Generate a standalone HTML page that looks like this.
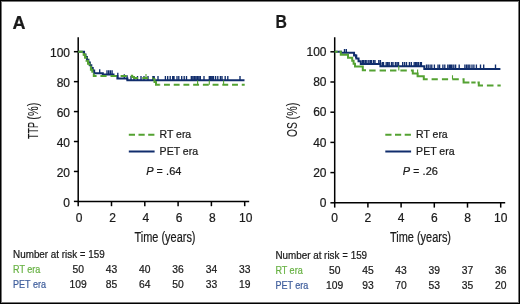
<!DOCTYPE html>
<html><head><meta charset="utf-8"><style>
html,body{margin:0;padding:0;background:#fff;}
svg{display:block;will-change:transform;}
text{font-family:"Liberation Sans", sans-serif;stroke:currentColor;stroke-width:0.22px;}
</style></head><body>
<svg width="520" height="304" viewBox="0 0 520 304">
<rect x="0" y="0" width="520" height="304" fill="#fff"/>
<g fill="#1a1a1a" style="color:#1a1a1a">
<path d="M78.20,37.3 V201.40 H249.20" fill="none" stroke="#000" stroke-width="1.5"/>
<path d="M73.90,201.40 H78.20" stroke="#000" stroke-width="1.5"/>
<text x="70.00" y="206.50" text-anchor="end" font-size="12">0</text>
<path d="M73.90,171.46 H78.20" stroke="#000" stroke-width="1.5"/>
<text x="70.00" y="176.56" text-anchor="end" font-size="12">20</text>
<path d="M73.90,141.52 H78.20" stroke="#000" stroke-width="1.5"/>
<text x="70.00" y="146.62" text-anchor="end" font-size="12">40</text>
<path d="M73.90,111.58 H78.20" stroke="#000" stroke-width="1.5"/>
<text x="70.00" y="116.68" text-anchor="end" font-size="12">60</text>
<path d="M73.90,81.64 H78.20" stroke="#000" stroke-width="1.5"/>
<text x="70.00" y="86.74" text-anchor="end" font-size="12">80</text>
<path d="M73.90,51.70 H78.20" stroke="#000" stroke-width="1.5"/>
<text x="70.00" y="56.80" text-anchor="end" font-size="12">100</text>
<path d="M78.20,201.40 V206.20" stroke="#000" stroke-width="1.5"/>
<text x="79.20" y="222.2" text-anchor="middle" font-size="12">0</text>
<path d="M111.50,201.40 V206.20" stroke="#000" stroke-width="1.5"/>
<text x="112.50" y="222.2" text-anchor="middle" font-size="12">2</text>
<path d="M144.80,201.40 V206.20" stroke="#000" stroke-width="1.5"/>
<text x="145.80" y="222.2" text-anchor="middle" font-size="12">4</text>
<path d="M178.10,201.40 V206.20" stroke="#000" stroke-width="1.5"/>
<text x="179.10" y="222.2" text-anchor="middle" font-size="12">6</text>
<path d="M211.40,201.40 V206.20" stroke="#000" stroke-width="1.5"/>
<text x="212.40" y="222.2" text-anchor="middle" font-size="12">8</text>
<path d="M244.70,201.40 V206.20" stroke="#000" stroke-width="1.5"/>
<text x="245.70" y="222.2" text-anchor="middle" font-size="12">10</text>
<text x="165.00" y="242.3" text-anchor="middle" font-size="14" textLength="61" lengthAdjust="spacingAndGlyphs">Time (years)</text>
<text transform="translate(37.70,138.90) rotate(-90)" font-size="14.6" style="stroke-width:0.1px" textLength="16.8" lengthAdjust="spacingAndGlyphs">TTP</text>
<text transform="translate(37.70,119.70) rotate(-90)" font-size="14.6" style="stroke-width:0.1px" textLength="17.0" lengthAdjust="spacingAndGlyphs">(%)</text>
<text x="12.40" y="28.50" font-size="18" font-weight="bold">A</text>
<path d="M78.2,51.7 H82.6 H84.05 V54.40 H85.50 V57.10 H86.95 V59.80 H88.40 V62.50 H89.85 V65.20 H91.30 V67.90 H92.75 V70.60 H94.20 V73.30 H102.8 V74.4 H113.5 V75.9 H117.4 V78.6 H127.4 V80.3 H244.5" fill="none" stroke="#102d6c" stroke-width="2"/>
<path d="M99.70,69.30 V73.30 M107.00,70.30 V74.40 M108.70,70.30 V74.40 M110.40,70.30 V74.40 M112.10,70.30 V74.40 M117.80,72.80 V78.60 M124.30,74.20 V78.60 M127.10,75.20 V80.30 M131.00,75.90 V80.30 M134.00,75.90 V80.30 M137.50,75.90 V80.30 M141.00,75.90 V80.30 M144.00,75.90 V80.30 M148.00,75.90 V80.30 M152.90,75.90 V80.30 M154.20,75.90 V80.30 M158.00,75.90 V80.30 M165.40,75.90 V80.30 M167.70,75.90 V80.30 M170.20,75.90 V80.30 M172.70,75.90 V80.30 M174.00,75.90 V80.30 M177.00,75.90 V80.30 M178.80,75.90 V80.30 M181.70,75.90 V80.30 M184.20,75.90 V80.30 M186.50,75.90 V80.30 M191.30,75.90 V80.30 M192.80,75.90 V80.30 M194.30,75.90 V80.30 M195.80,75.90 V80.30 M197.30,75.90 V80.30 M198.80,75.90 V80.30 M200.30,75.90 V80.30 M204.00,75.90 V80.30 M209.30,75.90 V80.30 M210.70,75.90 V80.30 M212.10,75.90 V80.30 M213.50,75.90 V80.30 M215.60,75.90 V80.30 M217.80,75.90 V80.30 M220.40,75.90 V80.30 M222.00,75.90 V80.30 M225.20,75.90 V80.30 M227.80,75.90 V80.30 M240.00,75.90 V80.30" stroke="#102d6c" stroke-width="1.35"/>
<path d=" M130.8,75.7 H132.2 V76.9 H134 V78.1 H136 M153.2,79.2 H154.5 V82 H156 V84.8 H159.2" fill="none" stroke="#54a232" stroke-width="2"/>
<path d="M78.2,51.7 H82.2 H83.65 V54.73 H85.10 V57.75 H86.55 V60.78 H88.00 V63.80 H89.45 V66.83 H90.90 V69.85 H92.35 V72.88 H93.80 V75.90 H96.2" fill="none" stroke="#54a232" stroke-width="2" stroke-dasharray="8 2.2" stroke-dashoffset="3.4"/>
<path d="M93.80,75.90 H96.50 M100.40,75.90 H106.60 M110.50,75.90 H116.70 M120.60,75.90 H126.80 M136.00,78.10 H138.10 M142.30,78.10 H147.90 M152.10,78.10 H153.20 M159.20,84.80 H160.18 M164.00,84.80 H169.90 M173.72,84.80 H179.62 M183.44,84.80 H189.34 M193.16,84.80 H199.06 M202.88,84.80 H208.78 M212.60,84.80 H218.50 M222.32,84.80 H228.22 M232.04,84.80 H237.94 M241.76,84.80 H244.70" fill="none" stroke="#54a232" stroke-width="2"/>
<path d="M197.60,80.50 V84.80 M209.30,80.50 V84.80 M223.60,80.50 V84.80 M146.00,74.00 V78.10" stroke="#54a232" stroke-width="1.1"/>
<path d="M128.80,134.80 H135.00 M138.50,134.80 H144.70 M148.20,134.80 H154.40" stroke="#54a232" stroke-width="2"/>
<path d="M128.80,151.5 H154.60" stroke="#102d6c" stroke-width="2"/>
<text x="159.60" y="138.1" font-size="11" textLength="31.6" lengthAdjust="spacingAndGlyphs">RT era</text>
<text x="159.60" y="154.5" font-size="11" textLength="38.5" lengthAdjust="spacingAndGlyphs">PET era</text>
<text x="146.20" y="175.3" font-size="11"><tspan font-style="italic">P</tspan><tspan style="stroke-width:0"> = </tspan>.64</text>
<text x="13.10" y="257.70" font-size="10" textLength="91.7" lengthAdjust="spacingAndGlyphs">Number at risk<tspan style="stroke-width:0"> = </tspan>159</text>
<text x="13.10" y="272.50" font-size="10.3" style="fill:#68b244;color:#68b244" textLength="27.3" lengthAdjust="spacingAndGlyphs">RT era</text>
<text x="13.10" y="287.90" font-size="10.3" style="fill:#3f5e9c;color:#3f5e9c" textLength="32.9" lengthAdjust="spacingAndGlyphs">PET era</text>
<text x="78.20" y="273.00" text-anchor="middle" font-size="10.3">50</text>
<text x="78.20" y="288.30" text-anchor="middle" font-size="10.3">109</text>
<text x="111.50" y="273.00" text-anchor="middle" font-size="10.3">43</text>
<text x="111.50" y="288.30" text-anchor="middle" font-size="10.3">85</text>
<text x="144.80" y="273.00" text-anchor="middle" font-size="10.3">40</text>
<text x="144.80" y="288.30" text-anchor="middle" font-size="10.3">64</text>
<text x="178.10" y="273.00" text-anchor="middle" font-size="10.3">36</text>
<text x="178.10" y="288.30" text-anchor="middle" font-size="10.3">50</text>
<text x="211.40" y="273.00" text-anchor="middle" font-size="10.3">34</text>
<text x="211.40" y="288.30" text-anchor="middle" font-size="10.3">33</text>
<text x="244.70" y="273.00" text-anchor="middle" font-size="10.3">33</text>
<text x="244.70" y="288.30" text-anchor="middle" font-size="10.3">19</text>
<path d="M334.70,37.3 V202.80 H505.20" fill="none" stroke="#000" stroke-width="1.5"/>
<path d="M330.40,202.80 H334.70" stroke="#000" stroke-width="1.5"/>
<text x="326.50" y="206.90" text-anchor="end" font-size="12">0</text>
<path d="M330.40,172.60 H334.70" stroke="#000" stroke-width="1.5"/>
<text x="326.50" y="176.70" text-anchor="end" font-size="12">20</text>
<path d="M330.40,142.40 H334.70" stroke="#000" stroke-width="1.5"/>
<text x="326.50" y="146.50" text-anchor="end" font-size="12">40</text>
<path d="M330.40,112.20 H334.70" stroke="#000" stroke-width="1.5"/>
<text x="326.50" y="116.30" text-anchor="end" font-size="12">60</text>
<path d="M330.40,82.00 H334.70" stroke="#000" stroke-width="1.5"/>
<text x="326.50" y="86.10" text-anchor="end" font-size="12">80</text>
<path d="M330.40,51.80 H334.70" stroke="#000" stroke-width="1.5"/>
<text x="326.50" y="55.90" text-anchor="end" font-size="12">100</text>
<path d="M334.70,202.80 V207.60" stroke="#000" stroke-width="1.5"/>
<text x="334.70" y="222.2" text-anchor="middle" font-size="12">0</text>
<path d="M367.90,202.80 V207.60" stroke="#000" stroke-width="1.5"/>
<text x="367.90" y="222.2" text-anchor="middle" font-size="12">2</text>
<path d="M401.10,202.80 V207.60" stroke="#000" stroke-width="1.5"/>
<text x="401.10" y="222.2" text-anchor="middle" font-size="12">4</text>
<path d="M434.30,202.80 V207.60" stroke="#000" stroke-width="1.5"/>
<text x="434.30" y="222.2" text-anchor="middle" font-size="12">6</text>
<path d="M467.50,202.80 V207.60" stroke="#000" stroke-width="1.5"/>
<text x="467.50" y="222.2" text-anchor="middle" font-size="12">8</text>
<path d="M500.70,202.80 V207.60" stroke="#000" stroke-width="1.5"/>
<text x="500.70" y="222.2" text-anchor="middle" font-size="12">10</text>
<text x="420.50" y="242.3" text-anchor="middle" font-size="14" textLength="61" lengthAdjust="spacingAndGlyphs">Time (years)</text>
<text transform="translate(297.00,137.00) rotate(-90)" font-size="14.6" style="stroke-width:0.1px" textLength="14.8" lengthAdjust="spacingAndGlyphs">OS</text>
<text transform="translate(297.00,119.40) rotate(-90)" font-size="14.6" style="stroke-width:0.1px" textLength="16.6" lengthAdjust="spacingAndGlyphs">(%)</text>
<text x="275.60" y="27.70" font-size="18" font-weight="bold" textLength="11.4" lengthAdjust="spacingAndGlyphs">B</text>
<path d="M334.7,51.8 H341 V52.7 H351.8 H354.05 V55.55 H356.30 V58.40 H358.55 V61.25 H360.80 V64.10 H380.4 V66.2 H424.3 V68.9 H500.4" fill="none" stroke="#102d6c" stroke-width="2"/>
<path d="M344.50,49.00 V52.70 M346.30,49.00 V52.70 M355.70,54.20 V58.00 M362.70,60.00 V64.10 M363.80,60.00 V64.10 M365.40,60.00 V64.10 M366.90,60.00 V64.10 M368.80,60.00 V64.10 M370.40,60.00 V64.10 M371.50,60.00 V64.10 M373.50,60.00 V64.10 M375.00,60.00 V64.10 M378.80,60.00 V64.10 M380.40,60.00 V64.10 M382.30,62.00 V66.20 M383.50,62.00 V66.20 M386.20,62.00 V66.20 M387.70,62.00 V66.20 M389.20,62.00 V66.20 M391.50,62.00 V66.20 M393.00,62.00 V66.20 M395.40,62.00 V66.20 M397.00,62.00 V66.20 M398.50,62.00 V66.20 M402.70,62.00 V66.20 M404.60,62.00 V66.20 M406.50,62.00 V66.20 M409.40,62.00 V66.20 M411.30,62.00 V66.20 M414.20,62.00 V66.20 M415.70,62.00 V66.20 M417.10,62.00 V66.20 M418.60,62.00 V66.20 M420.50,62.00 V66.20 M421.40,62.00 V66.20 M426.50,64.50 V68.90 M428.20,64.50 V68.90 M430.10,64.50 V68.90 M431.80,64.50 V68.90 M434.40,64.50 V68.90 M438.00,64.50 V68.90 M439.60,64.50 V68.90 M442.90,64.50 V68.90 M444.80,64.50 V68.90 M447.80,64.50 V68.90 M449.40,64.50 V68.90 M450.70,64.50 V68.90 M452.00,64.50 V68.90 M453.80,64.50 V68.90 M455.60,64.50 V68.90 M459.20,64.50 V68.90 M464.90,64.50 V68.90 M466.60,64.50 V68.90 M468.20,64.50 V68.90 M469.80,64.50 V68.90 M472.00,64.50 V68.90 M473.90,64.50 V68.90 M476.40,64.50 V68.90 M480.50,64.50 V68.90 M483.70,64.50 V68.90 M495.50,64.50 V68.90" stroke="#102d6c" stroke-width="1.35"/>
<path d="M334.7,51.8 H337.7 M339.5,51.8 H340.8 V54.8 H348 V57.8 H352.2 V60.8 H353.6 V63.8 H355 V66.4 H362.8 V70.3 H366 M410.9,70.4 H412.8 V73.5 H417.6 V76.2 H423.8 V79.2 H427.7 M452.5,79.2 H458.8 M462.5,79.2 H463.6 V82.5 H469.4 M471.3,82.5 H475.6 M477.5,82.5 H478.8 V85.6 H483" fill="none" stroke="#54a232" stroke-width="2"/>
<path d="M369.20,70.40 H375.60 M379.60,70.40 H386.00 M390.00,70.40 H396.40 M400.40,70.40 H406.80 M431.60,79.20 H437.80 M441.90,79.20 H448.10 M452.20,79.20 H452.50 M486.90,85.60 H493.50 M497.40,85.60 H500.70" fill="none" stroke="#54a232" stroke-width="2"/>
<path d="M398.80,65.80 V70.40 M452.50,75.20 V79.20 M417.60,69.60 V76.20" stroke="#54a232" stroke-width="1.1"/>
<path d="M385.30,134.80 H391.50 M395.00,134.80 H401.20 M404.70,134.80 H410.90" stroke="#54a232" stroke-width="2"/>
<path d="M385.30,151.5 H411.10" stroke="#102d6c" stroke-width="2"/>
<text x="416.10" y="138.1" font-size="11" textLength="31.6" lengthAdjust="spacingAndGlyphs">RT era</text>
<text x="416.10" y="154.5" font-size="11" textLength="38.5" lengthAdjust="spacingAndGlyphs">PET era</text>
<text x="402.70" y="175.3" font-size="11"><tspan font-style="italic">P</tspan><tspan style="stroke-width:0"> = </tspan>.26</text>
<text x="275.40" y="258.80" font-size="10" textLength="91.7" lengthAdjust="spacingAndGlyphs">Number at risk<tspan style="stroke-width:0"> = </tspan>159</text>
<text x="275.40" y="273.60" font-size="10.3" style="fill:#68b244;color:#68b244" textLength="27.3" lengthAdjust="spacingAndGlyphs">RT era</text>
<text x="275.40" y="289.00" font-size="10.3" style="fill:#3f5e9c;color:#3f5e9c" textLength="32.9" lengthAdjust="spacingAndGlyphs">PET era</text>
<text x="334.70" y="274.10" text-anchor="middle" font-size="10.3">50</text>
<text x="334.70" y="289.40" text-anchor="middle" font-size="10.3">109</text>
<text x="367.90" y="274.10" text-anchor="middle" font-size="10.3">45</text>
<text x="367.90" y="289.40" text-anchor="middle" font-size="10.3">93</text>
<text x="401.10" y="274.10" text-anchor="middle" font-size="10.3">43</text>
<text x="401.10" y="289.40" text-anchor="middle" font-size="10.3">70</text>
<text x="434.30" y="274.10" text-anchor="middle" font-size="10.3">39</text>
<text x="434.30" y="289.40" text-anchor="middle" font-size="10.3">53</text>
<text x="467.50" y="274.10" text-anchor="middle" font-size="10.3">37</text>
<text x="467.50" y="289.40" text-anchor="middle" font-size="10.3">35</text>
<text x="500.70" y="274.10" text-anchor="middle" font-size="10.3">36</text>
<text x="500.70" y="289.40" text-anchor="middle" font-size="10.3">20</text>
</g>
<rect x="0.5" y="0.5" width="519" height="303" fill="none" stroke="#000" stroke-width="1"/>
<rect x="1.5" y="1.5" width="517" height="301" fill="none" stroke="#777" stroke-width="1"/>
</svg>
</body></html>
